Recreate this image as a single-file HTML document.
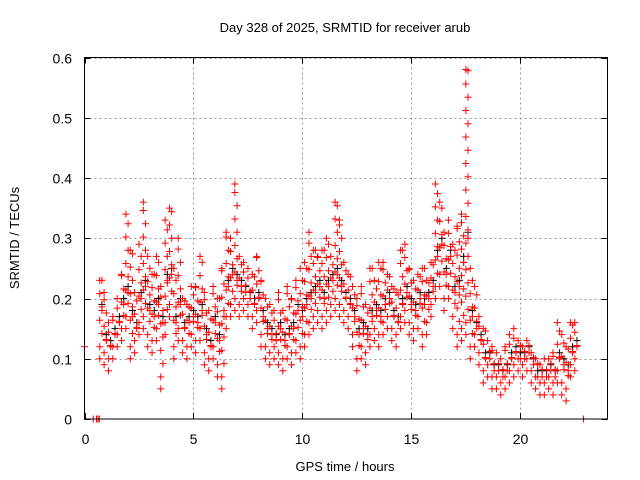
<!DOCTYPE html>
<html><head><meta charset="utf-8"><style>
html,body{margin:0;padding:0;background:#fff;}
svg{display:block;font-family:"Liberation Sans",sans-serif;}
</style></head><body>
<svg id="chart" width="640" height="480" viewBox="0 0 640 480" xmlns="http://www.w3.org/2000/svg">
<rect width="640" height="480" fill="#fff"/>
<text x="345" y="32" font-size="13" text-anchor="middle">Day 328 of 2025, SRMTID for receiver arub</text>
<text transform="translate(19,238) rotate(-90)" font-size="13" text-anchor="middle">SRMTID / TECUs</text>
<text x="345" y="471" font-size="13" text-anchor="middle">GPS time / hours</text>
<g id="grid"></g><g id="ticks"></g><g id="marks"></g>
<rect x="84.5" y="57.5" width="523" height="361.5" fill="none" stroke="#000" stroke-width="1"/>
</svg>
<script>
const times=[0.7,0.9,1.1,1.3,1.5,1.7,1.9,2.1,2.3,2.5,2.7,2.9,3.1,3.3,3.5,3.7,3.9,4.1,4.3,4.5,4.7,4.9,5.1,5.3,5.5,5.7,5.9,6.1,6.3,6.5,6.7,6.9,7.1,7.3,7.5,7.7,7.9,8.1,8.3,8.5,8.7,8.9,9.1,9.3,9.5,9.7,9.9,10.1,10.3,10.5,10.7,10.9,11.1,11.3,11.5,11.7,11.9,12.1,12.3,12.5,12.7,12.9,13.1,13.3,13.5,13.7,13.9,14.1,14.3,14.5,14.7,14.9,15.1,15.3,15.5,15.7,15.9,16.1,16.3,16.5,16.7,16.9,17.1,17.3,17.5,17.7,17.9,18.1,18.3,18.5,18.7,18.9,19.1,19.3,19.5,19.7,19.9,20.1,20.3,20.5,20.7,20.9,21.1,21.3,21.5,21.7,21.9,22.1,22.3,22.5];
const lo=[.10,.09,.08,.10,.12,.13,.15,.10,.11,.14,.15,.12,.11,.13,.05,.14,.17,.10,.13,.11,.10,.12,.11,.13,.09,.08,.10,.07,.05,.15,.17,.18,.17,.18,.17,.15,.16,.12,.10,.09,.10,.09,.08,.10,.09,.11,.10,.12,.14,.15,.16,.15,.16,.17,.18,.17,.16,.15,.12,.08,.10,.09,.12,.13,.12,.14,.15,.13,.12,.15,.16,.14,.13,.15,.12,.14,.17,.20,.22,.18,.20,.15,.12,.13,.14,.10,.12,.09,.06,.07,.05,.05,.04,.05,.06,.07,.08,.07,.08,.06,.05,.04,.04,.05,.04,.06,.04,.03,.07,.08];
const mid=[.18,.13,.12,.14,.16,.19,.21,.17,.15,.20,.22,.18,.17,.19,.16,.23,.24,.16,.19,.15,.16,.17,.16,.18,.14,.12,.16,.13,.17,.22,.24,.23,.22,.21,.20,.19,.20,.17,.15,.14,.13,.15,.13,.14,.15,.18,.17,.19,.20,.21,.22,.20,.22,.23,.24,.22,.20,.19,.17,.14,.15,.14,.17,.18,.17,.19,.20,.17,.16,.19,.21,.19,.18,.20,.19,.20,.22,.27,.29,.24,.27,.21,.22,.26,.30,.17,.15,.13,.10,.10,.08,.08,.07,.08,.10,.11,.10,.10,.11,.09,.07,.07,.07,.08,.07,.10,.09,.08,.11,.12];
const hi=[.23,.21,.16,.17,.20,.24,.34,.28,.21,.29,.36,.27,.24,.27,.22,.33,.35,.25,.30,.20,.19,.22,.22,.27,.21,.18,.22,.20,.25,.31,.30,.39,.27,.26,.25,.24,.27,.23,.20,.19,.18,.21,.18,.22,.20,.23,.25,.26,.31,.28,.27,.28,.30,.27,.36,.33,.26,.24,.22,.20,.22,.19,.25,.23,.26,.26,.24,.22,.21,.28,.29,.25,.23,.24,.25,.23,.26,.39,.36,.31,.33,.29,.32,.34,.58,.25,.22,.17,.15,.13,.12,.11,.10,.12,.14,.15,.13,.12,.13,.11,.10,.09,.10,.10,.11,.16,.14,.12,.16,.16];
const zeroTimes=[0.4,0.55,0.62,0.68,22.9];
const extraT=[0.0];
const extraV=[0.12];
const xTicks=[0,5,10,15,20];
const yTicks=[0,0.1,0.2,0.3,0.4,0.5,0.6];
const yTickLabels=["0","0.1","0.2","0.3","0.4","0.5","0.6"];

const X0=84.5,X1=607.5,Y0=419,Y1=57.5;
const xs=t=>X0+(t/24)*(X1-X0);
const ys=v=>Y0-(v/0.6)*(Y0-Y1);
const NS="http://www.w3.org/2000/svg";
function mk(tag,attrs,parent){const e=document.createElementNS(NS,tag);for(const k in attrs)e.setAttribute(k,attrs[k]);parent.appendChild(e);return e;}
const grid=document.getElementById('grid'),ticks=document.getElementById('ticks'),marks=document.getElementById('marks');
xTicks.forEach(t=>{const x=Math.round(xs(t))+0.5;
 if(t>0){const g=mk('line',{x1:x,x2:x,y1:Y1,y2:Y0,stroke:'#999','stroke-dasharray':'2,3'},grid);
 
 }
 const a=mk('path',{d:`M${x} ${Y0}V${Y0-6}M${x} ${Y1}V${Y1+6}`,stroke:'#000'},ticks);
 
 
 const l=mk('text',{x:x,y:444,'font-size':14,'text-anchor':'middle'},ticks);l.textContent=t;
 
 
});
yTicks.forEach((v,i)=>{const y=Math.round(ys(v))+0.5;
 if(v>0){const g=mk('line',{x1:X0,x2:X1,y1:y,y2:y,stroke:'#999','stroke-dasharray':'2,3'},grid);
 
 }
 const a=mk('path',{d:`M${X0} ${y}H${X0+6}M${X1} ${y}H${X1-6}`,stroke:'#000'},ticks);
 
 
 const l=mk('text',{x:72,y:y+5,'font-size':14,'text-anchor':'end'},ticks);l.textContent=yTickLabels[i];
 
 
});
function cross(t,v,color,name){const x=xs(t),y=ys(v);
 const p=mk('path',{d:`M${x-3.5} ${y}H${x+3.5}M${x} ${y-3.5}V${y+3.5}`,stroke:color,'stroke-width':1,fill:'none'},marks);
 
 }
// black series (under red)
times.forEach((t,i)=>{cross(t+0.1,mid[i]+0.01,'#000','black-point');});
// red series
times.forEach((t,i)=>{
 cross(t,lo[i],'#f00','red-point');cross(t+0.1,mid[i],'#f00','red-point');cross(t,hi[i],'#f00','red-point');
 let k=0;for(let v=lo[i]+0.02;v<hi[i];v+=0.022){cross(t+(k%2?0.1:0),v,'#f00','red-point');k++;}
});
zeroTimes.forEach(t=>cross(t,0,'#f00','zero-point'));
extraT.forEach((t,i)=>cross(t,extraV[i],'#f00','red-point'));
</script>
</body></html>
